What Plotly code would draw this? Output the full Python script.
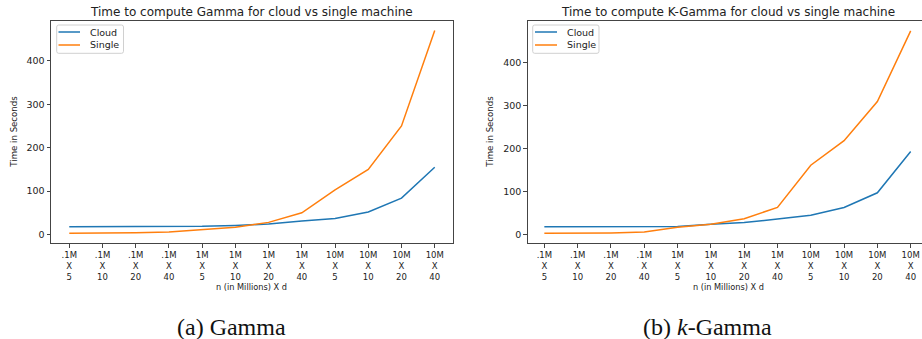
import plotly.graph_objects as go

# ---- data ----
categories = [".1M<br>X<br>5", ".1M<br>X<br>10", ".1M<br>X<br>20", ".1M<br>X<br>40",
              "1M<br>X<br>5", "1M<br>X<br>10", "1M<br>X<br>20", "1M<br>X<br>40",
              "10M<br>X<br>5", "10M<br>X<br>10", "10M<br>X<br>20", "10M<br>X<br>40"]
gamma_cloud = [18, 18, 18, 18, 19, 21, 24, 31, 37, 52, 84, 155]
gamma_single = [3, 3, 4, 6, 12, 17, 28, 50, 103, 150, 250, 470]
kgamma_cloud = [18, 18, 18, 18, 19, 24, 28, 36, 45, 63, 97, 193]
kgamma_single = [3, 3, 4, 6, 17, 24, 37, 63, 161, 218, 309, 473]
y_ticks = [0, 100, 200, 300, 400]
series_names = ["Cloud", "Single"]

titles = ["Time to compute Gamma for cloud vs single machine",
          "Time to compute K-Gamma for cloud vs single machine"]
captions = ["(a) Gamma", "(b) <i>k</i>-Gamma"]
x_title = "n (in Millions) X d"
y_title = "Time in Seconds"

BLUE = "#1f77b4"
ORANGE = "#ff7f0e"
FONT = "DejaVu Sans"

W, H = 922, 339

def px(x):
    return x / W

def py(y):
    return 1 - y / H

xs = list(range(len(categories)))

fig = go.Figure()
fig.add_trace(go.Scatter(x=xs, y=gamma_cloud, mode="lines", name=series_names[0],
                         line=dict(color=BLUE, width=1.5), xaxis="x", yaxis="y"))
fig.add_trace(go.Scatter(x=xs, y=gamma_single, mode="lines", name=series_names[1],
                         line=dict(color=ORANGE, width=1.5), xaxis="x", yaxis="y"))
fig.add_trace(go.Scatter(x=xs, y=kgamma_cloud, mode="lines", name=series_names[0],
                         line=dict(color=BLUE, width=1.5), xaxis="x2", yaxis="y2"))
fig.add_trace(go.Scatter(x=xs, y=kgamma_single, mode="lines", name=series_names[1],
                         line=dict(color=ORANGE, width=1.5), xaxis="x2", yaxis="y2"))

ydom = [py(243), py(20.5)]

def axcommon(size):
    return dict(showgrid=False, zeroline=False, showline=True, linecolor="#444",
                linewidth=1, ticks="outside", ticklen=3.5, tickcolor="#444",
                automargin=False,
                tickfont=dict(family=FONT, size=size, color="#222"))

fig.update_layout(
    width=W, height=H,
    margin=dict(l=0, r=0, t=0, b=0, autoexpand=False),
    paper_bgcolor="white", plot_bgcolor="white",
    showlegend=False,
    xaxis=dict(domain=[px(51), px(453)], range=[-0.55, 11.55], tickmode="array",
               tickvals=xs, ticktext=categories, mirror=True, anchor="y", **axcommon(8.5)),
    yaxis=dict(domain=ydom, range=[-19.5, 493], tickmode="array", tickvals=y_ticks,
               mirror=True, anchor="x", **axcommon(9.5)),
    xaxis2=dict(domain=[px(527.7), 1.0], range=[-0.5, 11.34], tickmode="array",
                tickvals=xs, ticktext=categories, mirror=True, anchor="y2", **axcommon(8.5)),
    yaxis2=dict(domain=ydom, range=[-19.5, 497], tickmode="array", tickvals=y_ticks,
                mirror=False, anchor="x2", **axcommon(9.5)),
)

annots = []
shapes = []
centers = [252, 728]
ylab_x = [14, 490]
for i in range(2):
    annots.append(dict(text=titles[i], x=px(centers[i]), y=py(11.7), xref="paper", yref="paper",
                       xanchor="center", yanchor="middle", showarrow=False,
                       font=dict(family=FONT, size=12, color="#222")))
    annots.append(dict(text=x_title, x=px(centers[i]), y=py(287.3), xref="paper", yref="paper",
                       xanchor="center", yanchor="middle", showarrow=False,
                       font=dict(family=FONT, size=8.2, color="#222")))
    annots.append(dict(text=y_title, x=px(ylab_x[i]), y=py(131.7), xref="paper", yref="paper",
                       xanchor="center", yanchor="middle", showarrow=False, textangle=-90,
                       font=dict(family=FONT, size=8.6, color="#222")))

# manual legends (matplotlib style)
leg_box = [(56.7, 123.5), (532.7, 599)]
leg_line = [(58.5, 80), (535, 557)]
leg_text = [88, 565]

def conv(p):
    out = []
    for tok in p.split():
        if "," in tok:
            a, b = tok.split(",")
            out.append(f"{px(float(a)):.5f},{py(float(b)):.5f}")
        else:
            out.append(tok)
    return " ".join(out)

for i in range(2):
    x0, x1 = leg_box[i]
    y0, y1 = 25, 53.3
    r = 2
    path = (f"M {x0+r},{y0} L {x1-r},{y0} Q {x1},{y0} {x1},{y0+r} L {x1},{y1-r} "
            f"Q {x1},{y1} {x1-r},{y1} L {x0+r},{y1} Q {x0},{y1} {x0},{y1-r} "
            f"L {x0},{y0+r} Q {x0},{y0} {x0+r},{y0} Z")
    shapes.append(dict(type="path", xref="paper", yref="paper", path=conv(path),
                       line=dict(color="#d0d0d0", width=1), fillcolor="rgba(255,255,255,0.8)"))
    for nm, col, yy in zip(series_names, [BLUE, ORANGE], [32, 45]):
        shapes.append(dict(type="line", xref="paper", yref="paper",
                           x0=px(leg_line[i][0]), x1=px(leg_line[i][1]),
                           y0=py(yy), y1=py(yy), line=dict(color=col, width=1.5)))
        annots.append(dict(text=nm, x=px(leg_text[i]), y=py(yy), xref="paper", yref="paper",
                           xanchor="left", yanchor="middle", showarrow=False,
                           font=dict(family=FONT, size=9.5, color="#222")))

capx = [231, 707.7]
for i in range(2):
    annots.append(dict(text=captions[i], x=px(capx[i]), y=py(327), xref="paper", yref="paper",
                       xanchor="center", yanchor="middle", showarrow=False,
                       font=dict(family="Liberation Serif", size=24, color="#111")))
fig.update_layout(annotations=annots, shapes=shapes)

# remove the default page margin so the figure sits at the window's top-left corner
fig.write_html("out.html", config={"displayModeBar": False},
               post_script="document.body.style.margin='0px';")
